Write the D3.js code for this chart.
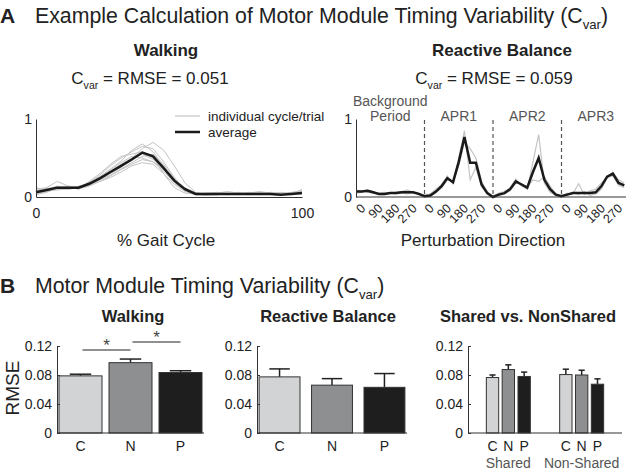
<!DOCTYPE html>
<html><head><meta charset="utf-8">
<script src="https://cdn.jsdelivr.net/npm/d3@7"></script>
<style>body{margin:0;background:#fff}svg{display:block}text{font-family:"Liberation Sans",Arial,Helvetica,sans-serif;fill:#222}</style>
</head><body>
<script>
// ---------- data ----------
const walkPct = [0,4,8,12,16,20,24,28,32,36,40,44,48,52,56,60,64,68,72,76,80,84,88,92,96,100];
const walkAvg = [0.06,0.09,0.12,0.12,0.12,0.17,0.24,0.32,0.40,0.48,0.57,0.52,0.37,0.21,0.10,0.04,0.04,0.04,0.04,0.04,0.04,0.04,0.04,0.03,0.04,0.05];
const walkTrial1 = [0.10,0.12,0.20,0.14,0.13,0.18,0.28,0.40,0.50,0.58,0.65,0.62,0.45,0.25,0.10,0.04,0.03,0.04,0.05,0.04,0.06,0.05,0.04,0.03,0.06,0.08];
const walkTrial2 = [0.04,0.07,0.10,0.10,0.12,0.15,0.20,0.27,0.35,0.42,0.48,0.45,0.33,0.18,0.08,0.03,0.03,0.03,0.04,0.05,0.03,0.04,0.05,0.04,0.03,0.04];
const walkTrial3 = [0.08,0.10,0.13,0.12,0.11,0.20,0.30,0.42,0.52,0.55,0.58,0.50,0.30,0.12,0.05,0.04,0.05,0.06,0.05,0.04,0.05,0.07,0.05,0.04,0.05,0.05];
const walkTrial4 = [0.05,0.08,0.09,0.11,0.14,0.17,0.22,0.30,0.38,0.50,0.62,0.70,0.60,0.40,0.18,0.06,0.04,0.03,0.04,0.06,0.04,0.03,0.04,0.03,0.04,0.06];
const walkTrial5 = [0.12,0.08,0.11,0.14,0.12,0.15,0.22,0.28,0.36,0.44,0.52,0.55,0.42,0.24,0.09,0.04,0.05,0.04,0.03,0.04,0.05,0.04,0.06,0.05,0.04,0.05];
const walkTrial6 = [0.03,0.06,0.12,0.13,0.10,0.14,0.20,0.25,0.32,0.40,0.44,0.42,0.30,0.16,0.07,0.03,0.02,0.03,0.04,0.03,0.04,0.06,0.03,0.04,0.03,0.10];
const walkTrial7 = [0.07,0.10,0.14,0.11,0.12,0.19,0.26,0.36,0.46,0.60,0.68,0.58,0.40,0.20,0.08,0.05,0.04,0.05,0.07,0.05,0.04,0.05,0.04,0.06,0.05,0.07];
const walkTrial8 = [0.06,0.09,0.10,0.12,0.13,0.16,0.23,0.33,0.42,0.50,0.55,0.48,0.36,0.22,0.12,0.05,0.03,0.04,0.03,0.04,0.05,0.04,0.05,0.04,0.05,0.04];
const walkTrial9 = [0.09,0.11,0.12,0.10,0.12,0.17,0.24,0.35,0.44,0.52,0.50,0.45,0.35,0.22,0.11,0.04,0.04,0.03,0.04,0.04,0.03,0.05,0.04,0.05,0.04,0.06];

const balPeriods = ["Background|Period","APR1","APR2","APR3"];
const balDirLabels = ["0","90","180","270"];
const balDirs = [0,30,60,90,120,150,180,210,240,270,300,330];
const balAvg = [0.07,0.07,0.08,0.06,0.04,0.04,0.05,0.05,0.06,0.06,0.06,0.04,
  0.01,0.02,0.07,0.14,0.24,0.19,0.45,0.77,0.44,0.44,0.16,0.05,
  0.00,0.03,0.05,0.10,0.20,0.16,0.12,0.32,0.50,0.22,0.10,0.03,
  0.01,0.03,0.05,0.05,0.05,0.05,0.06,0.14,0.26,0.30,0.18,0.15];
const balTrial1 = [0.09,0.08,0.06,0.05,0.05,0.06,0.05,0.06,0.07,0.09,0.06,0.03,
  0.02,0.04,0.10,0.16,0.27,0.17,0.50,0.85,0.22,0.38,0.13,0.04,
  0.01,0.05,0.07,0.12,0.23,0.14,0.10,0.45,0.80,0.18,0.06,0.02,
  0.02,0.05,0.04,0.17,0.03,0.08,0.10,0.18,0.25,0.27,0.15,0.12];
const balTrial2 = [0.05,0.06,0.09,0.07,0.03,0.03,0.05,0.04,0.05,0.04,0.06,0.05,
  0.01,0.01,0.05,0.12,0.22,0.20,0.40,0.70,0.62,0.50,0.20,0.06,
  0.00,0.02,0.04,0.08,0.18,0.17,0.13,0.22,0.20,0.26,0.14,0.04,
  0.01,0.02,0.06,0.03,0.07,0.02,0.04,0.10,0.25,0.32,0.22,0.18];

const groups = ["C","N","P"];
const groupColors = ["#d2d3d4","#8e8f90","#1e1e1e"];
const rmseTicks = [0,0.04,0.08,0.12];
const walkRMSE = [0.0788,0.0970,0.0834];
const walkSEM  = [0.0023,0.0050,0.0025];
const walkSig = [["C","N"],["N","P"]];
const balRMSE  = [0.0774,0.0660,0.0630];
const balSEM   = [0.0110,0.0090,0.0190];
const sharedCats = ["Shared","Non-Shared"];
const sharedRMSE = [0.0765,0.0875,0.0780];
const sharedSEM  = [0.0035,0.0065,0.0060];
const nonSharedRMSE = [0.0806,0.0800,0.0673];
const nonSharedSEM  = [0.0074,0.0066,0.0074];

// ---------- drawing ----------
const svg = d3.select("body").append("svg").attr("width",626).attr("height",473);
const AX = "#333";

function cvarText(g, x, y, size, anchor, pre, post){
  const t = g.append("text").attr("x",x).attr("y",y).attr("font-size",size).attr("text-anchor",anchor);
  t.append("tspan").text(pre);
  t.append("tspan").attr("font-size",size*0.62).attr("dy",size*0.3).text("var");
  t.append("tspan").attr("dy",-size*0.3).text(post);
  return t;
}

// Panel A header
svg.append("text").attr("x",0).attr("y",23).attr("font-size",21).attr("font-weight","bold").text("A");
cvarText(svg,35,23,21.3,"start","Example Calculation of Motor Module Timing Variability (C",")");

// ---- A: walking ----
const wx = d3.scaleLinear().domain([0,100]).range([36,302]);
const wy = d3.scaleLinear().domain([0,1]).range([197,119]);
svg.append("text").attr("x",166).attr("y",56).attr("text-anchor","middle").attr("font-size",17).attr("font-weight","bold").text("Walking");
cvarText(svg,150,84,17,"middle","C"," = RMSE = 0.051");
const wline = d3.line().x((d,i)=>wx(walkPct[i])).y(d=>wy(d));
[walkTrial1,walkTrial2,walkTrial3,walkTrial4,walkTrial5,walkTrial6,walkTrial7,walkTrial8,walkTrial9].forEach(t=>{
  svg.append("path").attr("d",wline(t)).attr("fill","none").attr("stroke","#c4c4c4").attr("stroke-width",1);
});
svg.append("path").attr("d",wline(walkAvg)).attr("fill","none").attr("stroke","#1a1a1a").attr("stroke-width",2.5);
svg.append("g").attr("transform","translate(0,197)").call(d3.axisBottom(wx).tickValues([0,100]).tickSize(0).tickPadding(11))
  .call(g=>{g.select(".domain").attr("stroke",AX);g.selectAll("text").attr("font-size",14).attr("fill","#222");});
svg.append("g").attr("transform","translate(36,0)").call(d3.axisLeft(wy).tickValues([0,1]).tickFormat(d3.format("d")).tickSize(0).tickPadding(4))
  .call(g=>{g.select(".domain").attr("stroke",AX);g.selectAll("text").attr("font-size",14).attr("fill","#222");});
svg.append("text").attr("x",166).attr("y",246).attr("text-anchor","middle").attr("font-size",17).text("% Gait Cycle");
// legend
svg.append("line").attr("x1",175).attr("x2",200).attr("y1",116).attr("y2",116).attr("stroke","#c4c4c4").attr("stroke-width",1.2);
svg.append("text").attr("x",208).attr("y",121).attr("font-size",13.5).text("individual cycle/trial");
svg.append("line").attr("x1",175).attr("x2",200).attr("y1",132).attr("y2",132).attr("stroke","#1a1a1a").attr("stroke-width",2.5);
svg.append("text").attr("x",208).attr("y",137).attr("font-size",13.5).text("average");

// ---- A: reactive balance ----
const nDir = balDirs.length;
const bx = d3.scaleLinear().domain([0,nDir*balPeriods.length]).range([356,630]);
const by = d3.scaleLinear().domain([0,1]).range([197,119]);
svg.append("text").attr("x",502).attr("y",56).attr("text-anchor","middle").attr("font-size",17).attr("font-weight","bold").text("Reactive Balance");
cvarText(svg,494,84,17,"middle","C"," = RMSE = 0.059");
const bline = d3.line().x((d,i)=>bx(i)).y(d=>by(d));
[balTrial1,balTrial2].forEach(t=>{
  svg.append("path").attr("d",bline(t)).attr("fill","none").attr("stroke","#c4c4c4").attr("stroke-width",1.2);
});
svg.append("path").attr("d",bline(balAvg)).attr("fill","none").attr("stroke","#1a1a1a").attr("stroke-width",2.5);
svg.append("g").attr("transform","translate(356,0)").call(d3.axisLeft(by).tickValues([0,1]).tickFormat(d3.format("d")).tickSize(0).tickPadding(4))
  .call(g=>{g.select(".domain").attr("stroke",AX);g.selectAll("text").attr("font-size",14).attr("fill","#222");});
svg.append("line").attr("x1",356).attr("x2",626).attr("y1",197).attr("y2",197).attr("stroke",AX);
balPeriods.forEach((p,k)=>{
  if(k>0) svg.append("line").attr("x1",bx(k*nDir)).attr("x2",bx(k*nDir)).attr("y1",120).attr("y2",197)
      .attr("stroke","#555").attr("stroke-width",1.2).attr("stroke-dasharray","4,3");
  const cx = bx(k*nDir+nDir/2);
  const parts = p.split("|");
  parts.forEach((s,j)=>{
    svg.append("text").attr("x",cx).attr("y",121-(parts.length-1-j)*15).attr("text-anchor","middle")
      .attr("font-size",14).style("fill","#555").text(s);
  });
  balDirLabels.forEach(l=>{
    const xi = bx(k*nDir + (+l)/30);
    svg.append("text").attr("transform",`translate(${xi+4},${203}) rotate(-45)`).attr("text-anchor","end")
      .attr("dy","0.7em").attr("font-size",12.5).text(l);
  });
});
svg.append("text").attr("x",483).attr("y",246).attr("text-anchor","middle").attr("font-size",17).text("Perturbation Direction");

// ---- Panel B ----
svg.append("text").attr("x",0).attr("y",293).attr("font-size",21).attr("font-weight","bold").text("B");
cvarText(svg,35,293,21.3,"start","Motor Module Timing Variability (C",")");

const ry = d3.scaleLinear().domain([0,0.12]).range([433,346]);
function rmseAxis(x0, x1){
  svg.append("g").attr("transform",`translate(${x0},0)`).call(d3.axisLeft(ry).tickValues(rmseTicks)
      .tickFormat(d=>d===0?"0":d3.format(".2f")(d)).tickSizeInner(-3).tickSizeOuter(0).tickPadding(5))
    .call(g=>{g.select(".domain").attr("stroke",AX);g.selectAll(".tick line").attr("stroke",AX);
      g.selectAll("text").attr("font-size",14).attr("fill","#222");});
  svg.append("line").attr("x1",x0).attr("x2",x1).attr("y1",433).attr("y2",433).attr("stroke",AX).attr("stroke-width",1.2);
}
function bars(xs, vals, sems, labelY){
  groups.forEach((gname,i)=>{
    const x = xs(gname), w = xs.bandwidth();
    const top = ry(vals[i]+sems[i]);
    svg.append("line").attr("x1",x+w/2).attr("x2",x+w/2).attr("y1",ry(vals[i])).attr("y2",top).attr("stroke","#222").attr("stroke-width",1.5);
    svg.append("line").attr("x1",x+w/4).attr("x2",x+3*w/4).attr("y1",top).attr("y2",top).attr("stroke","#222").attr("stroke-width",1.5);
    svg.append("rect").attr("x",x).attr("y",ry(vals[i])).attr("width",w).attr("height",433-ry(vals[i]))
      .attr("fill",groupColors[i]).attr("stroke","#333").attr("stroke-width",1);
    svg.append("text").attr("x",x+w/2).attr("y",labelY).attr("text-anchor","middle").attr("font-size",14).text(gname);
  });
}
// walking bars
svg.append("text").attr("x",133).attr("y",322).attr("text-anchor","middle").attr("font-size",16.5).attr("font-weight","bold").text("Walking");
const xw = d3.scaleBand().domain(groups).range([57,204]).paddingInner(0.14).paddingOuter(0.04);
bars(xw, walkRMSE, walkSEM, 451);
rmseAxis(57,204);
svg.append("text").attr("transform","translate(19,388) rotate(-90)").attr("text-anchor","middle").attr("font-size",19).text("RMSE");
walkSig.forEach((pr,k)=>{
  const a = xw(pr[0])+xw.bandwidth()/2, b = xw(pr[1])+xw.bandwidth()/2;
  const yy = ry(0.1145 + k*0.011);
  svg.append("line").attr("x1",a+2).attr("x2",b).attr("y1",yy).attr("y2",yy).attr("stroke","#222").attr("stroke-width",1.2);
  svg.append("text").attr("x",(a+b)/2+1).attr("y",yy+1).attr("text-anchor","middle").attr("font-size",17).style("fill","#444").text("*");
});
// reactive balance bars
svg.append("text").attr("x",328).attr("y",322).attr("text-anchor","middle").attr("font-size",16.5).attr("font-weight","bold").text("Reactive Balance");
const xb = d3.scaleBand().domain(groups).range([257,407]).paddingInner(0.22).paddingOuter(0.04);
bars(xb, balRMSE, balSEM, 451);
rmseAxis(257,407);
// shared vs nonshared
svg.append("text").attr("x",528).attr("y",322).attr("text-anchor","middle").attr("font-size",16.5).attr("font-weight","bold").text("Shared vs. NonShared");
const xs0 = d3.scaleBand().domain(sharedCats).range([468,622]).paddingInner(0.4).paddingOuter(0.25);
sharedCats.forEach((c,k)=>{
  const inner = d3.scaleBand().domain(groups).range([xs0(c), xs0(c)+xs0.bandwidth()]).paddingInner(0.22).paddingOuter(0);
  bars(inner, k===0?sharedRMSE:nonSharedRMSE, k===0?sharedSEM:nonSharedSEM, 451);
  svg.append("text").attr("x",xs0(c)+xs0.bandwidth()/2).attr("y",468).attr("text-anchor","middle").attr("font-size",14).style("fill","#555").text(c);
});
rmseAxis(468,622);
</script>
</body></html>
